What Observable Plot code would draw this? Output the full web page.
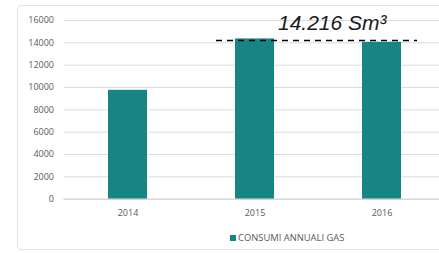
<!DOCTYPE html>
<html><head><meta charset="utf-8">
<script src="https://cdn.jsdelivr.net/npm/d3@7"></script>
<script src="https://cdn.jsdelivr.net/npm/@observablehq/plot@0.6"></script>
<style>
body{margin:0;background:#fff;width:439px;height:253px;overflow:hidden;position:relative;font-family:"Open Sans",sans-serif;}
#frame{position:absolute;left:17px;top:5px;width:450px;height:245px;border:1px solid #e3e3e3;border-radius:4px;box-sizing:border-box;}
#chart{position:absolute;left:0;top:0;}
#legend{position:absolute;left:230px;top:231px;font-size:9.4px;color:#595959;display:flex;align-items:center;white-space:nowrap;}
#legend .sw{width:6px;height:6px;background:#168584;margin-right:2px;}
</style></head>
<body>
<div id="frame"></div>
<div id="chart"></div>
<div id="legend"><span class="sw"></span><span id="legtext"></span></div>
<script>
const years = ["2014", "2015", "2016"];
const consumi = [9750, 14350, 14050];
const seriesName = "CONSUMI ANNUALI GAS";
const refValue = [14216];
const refLabel = ["14.216 Sm³"];
const refYear = ["2015"];
const refYearEnd = ["2016"];
const yTicks = [0, 2000, 4000, 6000, 8000, 10000, 12000, 14000, 16000];

const data = years.map((y, i) => ({year: y, value: consumi[i]}));
const ref = refValue.map((v, i) => ({value: v, label: refLabel[i], x1: refYear[i], x2: refYearEnd[i]}));

document.getElementById("legtext").textContent = seriesName;

const chart = Plot.plot({
  width: 439,
  height: 225,
  marginLeft: 63.5,
  marginRight: -7,
  marginTop: 20,
  marginBottom: 26.3,
  style: {fontFamily: "'Open Sans', sans-serif", fontSize: "9px", color: "#595959", background: "transparent", overflow: "visible"},
  x: {domain: years, paddingInner: 0.69, paddingOuter: 0.345, label: null, tickSize: 0, tickPadding: 10},
  y: {domain: [0, 16000], ticks: yTicks, label: null, tickSize: 0, tickPadding: 10, tickFormat: d => String(d)},
  marks: [
    Plot.gridY(yTicks, {stroke: "#dcdcdc", strokeOpacity: 1}),
    Plot.barY(data, {x: "year", y: "value", fill: "#168584"}),
    Plot.ruleY([0], {stroke: "#d0d0d0"}),
    Plot.ruleY(ref, {y: "value", x1: "x1", x2: "x2", stroke: "#000", strokeWidth: 1.6, strokeDasharray: "6,5", insetLeft: -19, insetRight: -16}),
    Plot.text(ref, {x: "x1", y: "value", text: "label", textAnchor: "start", dx: 23, dy: -17, fontSize: 21, fontStyle: "italic", fontFamily: "'Liberation Sans', Arial, sans-serif", fill: "#1a1a1a"})
  ]
});
document.getElementById("chart").appendChild(chart);
</script>
</body></html>
